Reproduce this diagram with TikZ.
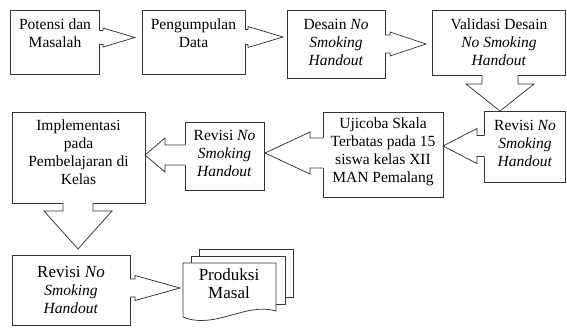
\documentclass[tikz,border=0pt]{standalone}
\usepackage{fontspec}
\setmainfont{Liberation Serif}
\newcommand\blkR[7]{%
 \fill[white] (#7,#4-#5) -- (#2,#4-#5) -- (#2,#4-#6) -- (#3,#4) -- (#2,#4+#6) -- (#2,#4+#5) -- (#7,#4+#5) -- cycle;
 \draw[blk] (#1,#4-#5) -- (#2,#4-#5) -- (#2,#4-#6) -- (#3,#4) -- (#2,#4+#6) -- (#2,#4+#5) -- (#1,#4+#5);}
\newcommand\blkD[7]{%
 \fill[white] (#1-#5,#7) -- (#1-#5,#3) -- (#1-#6,#3) -- (#1,#4) -- (#1+#6,#3) -- (#1+#5,#3) -- (#1+#5,#7) -- cycle;
 \draw[blk] (#1-#5,#2) -- (#1-#5,#3) -- (#1-#6,#3) -- (#1,#4) -- (#1+#6,#3) -- (#1+#5,#3) -- (#1+#5,#2);}
\begin{document}
\begin{tikzpicture}[x=1pt,y=-1pt,
  box/.style={draw=black!80, line width=0.75pt, fill=white, rectangle, inner sep=0pt, outer sep=0pt},
  txt/.style={align=center, inner sep=0pt, font=\fontsize{15.5}{18}\selectfont},
  blk/.style={draw=black!80, line width=0.75pt, line join=miter}]
\useasboundingbox[fill=white] (0,0) rectangle (567,327);
% boxes
\node[box, minimum width=89pt, minimum height=64pt] (b1) at (54.5,42) {};
\node[box, minimum width=103pt, minimum height=64pt] (b2) at (193.5,42) {};
\node[box, minimum width=98pt, minimum height=68pt] (b3) at (336,44) {};
\node[box, minimum width=133.5pt, minimum height=65pt] (b4) at (498.75,42.5) {};
\node[box, minimum width=81.5pt, minimum height=71pt] (b5) at (524.75,146.5) {};
\node[box, minimum width=120pt, minimum height=85pt] (b6) at (383,154.5) {};
\node[box, minimum width=79pt, minimum height=68pt] (b7) at (224.5,156) {};
\node[box, minimum width=133pt, minimum height=91pt] (b8) at (78.5,157.5) {};
\node[box, minimum width=118pt, minimum height=70pt] (b9) at (71,290) {};
% document stack
\draw[blk, fill=white] (199,249) rectangle (293,297);
\draw[blk, fill=white] (191,256) rectangle (285,304);
\draw[blk, fill=white] (183,263) -- (276,263) -- (276,311) .. controls (245,302) and (215,330) .. (183,317) -- cycle;
% block arrows
\blkR{99}{103}{135}{37.5}{7}{9.5}{98}
\blkR{245}{248}{283}{37}{7.5}{10.5}{244}
\blkR{385}{390}{426}{44}{9}{12}{384}
\blkD{500}{75}{84}{111}{18}{34}{74}
\blkR{484}{477}{443}{146}{10.5}{17.5}{485}
\blkR{323}{310}{265}{153}{15}{21}{324}
\blkR{185}{165}{145}{155}{10}{17}{186}
\blkD{78}{203}{211}{249}{15}{34}{202}
\blkR{130}{135}{180}{288}{9}{12.5}{129}
% texts
\node[txt] (t1) at (55,33.5) {Potensi dan\\Masalah};
\node[txt] (t2) at (193.5,33.5) {Pengumpulan\\Data};
\node[txt] (t3) at (336,42.5) {Desain \textit{No}\\\textit{Smoking}\\\textit{Handout}};
\node[txt] (t4) at (499,42.5) {Validasi Desain\\\textit{No Smoking}\\\textit{Handout}};
\node[txt] (t5) at (525,143) {Revisi \textit{No}\\\textit{Smoking}\\\textit{Handout}};
\node[txt] (t6) at (383,151.5) {Ujicoba Skala\\Terbatas pada 15\\siswa kelas XII\\MAN Pemalang};
\node[txt] (t7) at (224.5,153) {Revisi \textit{No}\\\textit{Smoking}\\\textit{Handout}};
\node[txt] (t8) at (78.5,152.5) {Implementasi\\pada\\Pembelajaran di\\Kelas};
\node[txt] (t9) at (71,290) {{\fontsize{17}{18}\selectfont Revisi \textit{No}}\\\textit{Smoking}\\\textit{Handout}};
\node[txt, font=\fontsize{17}{18}\selectfont] (t10) at (229,283.5) {Produksi\\Masal};
\end{tikzpicture}
\end{document}
